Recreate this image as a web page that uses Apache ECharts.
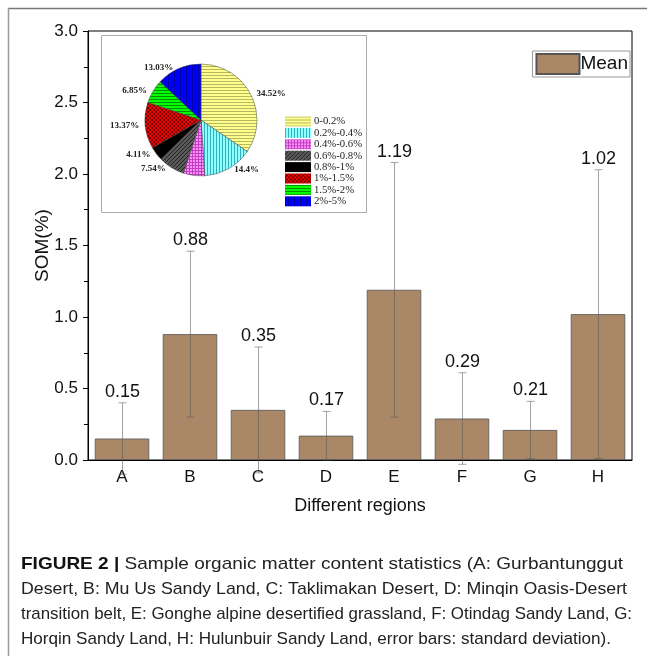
<!DOCTYPE html>
<html>
<head>
<meta charset="utf-8">
<script src="https://cdn.jsdelivr.net/npm/echarts@6/dist/echarts.min.js"></script>
<style>
html,body{margin:0;padding:0;background:#fff;}
#chart{width:647px;height:656px;}
</style>
</head>
<body>
<div id="chart"></div>
<script>
// ---- data ----
const categories = ['A', 'B', 'C', 'D', 'E', 'F', 'G', 'H'];
const meanValues = [0.15, 0.88, 0.35, 0.17, 1.19, 0.29, 0.21, 1.02];
const sdValues = [0.25, 0.58, 0.44, 0.17, 0.89, 0.32, 0.20, 1.01];
const pieClasses = ['0-0.2%', '0.2%-0.4%', '0.4%-0.6%', '0.6%-0.8%', '0.8%-1%', '1%-1.5%', '1.5%-2%', '2%-5%'];
const pieShares = [34.52, 14.4, 6.18, 7.54, 4.11, 13.37, 6.85, 13.03];
const captionLines = [
  'Sample organic matter content statistics (A: Gurbantunggut',
  'Desert, B: Mu Us Sandy Land, C: Taklimakan Desert, D: Minqin Oasis-Desert',
  'transition belt, E: Gonghe alpine desertified grassland, F: Otindag Sandy Land, G:',
  'Horqin Sandy Land, H: Hulunbuir Sandy Land, error bars: standard deviation).'
];

// ---- patterns ----
function pattern(bg, fg, type) {
  const s = type === 'diag' || type === 'cross' ? 4 : 3;
  const c = document.createElement('canvas');
  c.width = s; c.height = s;
  const ctx = c.getContext('2d');
  ctx.fillStyle = bg; ctx.fillRect(0, 0, s, s);
  ctx.fillStyle = fg;
  if (type === 'h') ctx.fillRect(0, 0, s, 1);
  if (type === 'v') ctx.fillRect(0, 0, 1, s);
  if (type === 'grid') { ctx.fillRect(0, 0, s, 1); ctx.fillRect(0, 0, 1, s); }
  if (type === 'diag') { for (let i = 0; i < s; i++) ctx.fillRect(i, s - 1 - i, 1, 1); }
  if (type === 'cross') { for (let i = 0; i < s; i++) { ctx.fillRect(i, i, 1, 1); ctx.fillRect(i, s - 1 - i, 1, 1); } }
  return { image: c, repeat: 'repeat' };
}
const pieFills = [
  pattern('#ffff90', '#b8b860', 'h'),
  pattern('#90ffff', '#30b0c0', 'v'),
  pattern('#ff90ff', '#c040c0', 'grid'),
  pattern('#5a5a5a', '#222222', 'diag'),
  '#000000',
  pattern('#ff0000', '#700000', 'cross'),
  pattern('#00ff00', '#009000', 'h'),
  pattern('#0000ff', '#0000a0', 'v')
];

const chart = echarts.init(document.getElementById('chart'), null, { renderer: 'canvas' });

// caption fitting
const mctx = document.createElement('canvas').getContext('2d');
const capFont = '17px "Liberation Sans", Arial, sans-serif';
const capBold = 'bold 17px "Liberation Sans", Arial, sans-serif';
const lineRight = [623, 627, 632, 611];
const capLeft = 21;
const capY = [564, 589, 614, 639];
const captionEls = captionLines.map((t, i) => {
  let prefix = i === 0 ? 'FIGURE 2 | ' : '';
  mctx.font = capFont;
  let w = mctx.measureText(t).width;
  if (prefix) { mctx.font = capBold; w += mctx.measureText(prefix).width; }
  const sx = (lineRight[i] - capLeft) / w;
  return {
    type: 'text', x: capLeft, y: capY[i], scaleX: sx, scaleY: 1, z: 100,
    style: {
      text: prefix ? '{b|' + prefix + '}' + t : t,
      font: capFont, fill: '#222', verticalAlign: 'middle',
      rich: { b: { font: capBold, fill: '#111' } }
    }
  };
});

const option = {
  animation: false,
  backgroundColor: '#fff',
  textStyle: { fontFamily: '"Liberation Sans", Arial, sans-serif' },
  grid: { left: 88, right: 15, top: 31, bottom: 196, show: true, borderColor: '#000', borderWidth: 1, backgroundColor: 'transparent' },
  legend: [
    {
      data: ['Mean'], right: 17, top: 51, orient: 'horizontal',
      itemWidth: 43, itemHeight: 20, itemGap: 0,
      padding: [2, 2, 2, 3], borderColor: '#999', borderWidth: 1,
      icon: 'rect',
      textStyle: { fontSize: 19, color: '#111', padding: [0, 0, 0, -4] }
    },
    {
      data: pieClasses, left: 285, top: 116, orient: 'vertical', padding: 0,
      itemWidth: 26, itemHeight: 10, itemGap: 0.4, icon: 'rect',
      itemStyle: { borderWidth: 0 },
      textStyle: { fontFamily: '"Liberation Serif", "Times New Roman", serif', fontSize: 10.7, color: '#222', lineHeight: 10, padding: [0, 0, 0, -2] }
    }
  ],
  xAxis: [
    {
      type: 'category', data: categories, gridIndex: 0,
      axisLine: { lineStyle: { color: '#000', width: 1 } },
      axisTick: { inside: true, alignWithLabel: true, length: 7, lineStyle: { color: '#000' } },
      axisLabel: { fontSize: 17, color: '#111', margin: 9 },
      name: 'Different regions', nameLocation: 'middle', nameGap: 37,
      nameTextStyle: { fontSize: 18, color: '#111' }
    },
    {
      type: 'category', data: categories, gridIndex: 0, position: 'bottom',
      axisLine: { show: false },
      axisTick: { inside: true, alignWithLabel: false, length: 4, lineStyle: { color: '#000' } },
      axisLabel: { show: false }
    }
  ],
  yAxis: {
    type: 'value', min: 0, max: 3, interval: 0.5,
    axisLine: { show: true, lineStyle: { color: '#000', width: 1 } },
    axisTick: { show: true, inside: false, length: 5, lineStyle: { color: '#000' } },
    minorTick: { show: true, splitNumber: 2, length: 4, lineStyle: { color: '#000' } },
    splitLine: { show: false },
    axisLabel: { fontSize: 17, color: '#111', margin: 10, formatter: v => v.toFixed(1) },
    name: 'SOM(%)', nameLocation: 'middle', nameGap: 36, nameRotate: 90, nameMoveOverlap: false,
    nameTextStyle: { fontSize: 19, color: '#111' }
  },
  graphic: {
    elements: [
      { type: 'line', z: 100, shape: { x1: 8, y1: 8.5, x2: 647, y2: 8.5 }, style: { stroke: '#777', lineWidth: 1.5 } },
      { type: 'line', z: 100, shape: { x1: 8.5, y1: 8, x2: 8.5, y2: 656 }, style: { stroke: '#999', lineWidth: 1.5 } },
      { type: 'rect', z: 0, shape: { x: 101.5, y: 35.5, width: 265, height: 177 }, style: { fill: '#fff', stroke: '#aaa', lineWidth: 1 } }
    ].concat(captionEls)
  },
  series: [
    {
      name: 'Mean', type: 'bar', data: meanValues, barWidth: '80%',
      itemStyle: { color: '#aa8767', borderColor: '#555', borderWidth: 0.8 },
      z: 2
    },
    {
      type: 'custom', name: 'sd', clip: false, z: 4,
      data: meanValues.map((m, i) => [i, m - sdValues[i], m + sdValues[i], m]),
      renderItem: function (params, api) {
        const i = api.value(0);
        const pHi = api.coord([i, api.value(2)]);
        const pLo = api.coord([i, api.value(1)]);
        const x = Math.round(pHi[0]) + 0.5;
        const st = { stroke: 'rgba(90,90,90,0.55)', lineWidth: 1 };
        return {
          type: 'group', children: [
            { type: 'line', shape: { x1: x, y1: pHi[1], x2: x, y2: pLo[1] }, style: st },
            { type: 'line', shape: { x1: x - 4, y1: pHi[1], x2: x + 4, y2: pHi[1] }, style: st },
            { type: 'line', shape: { x1: x - 4, y1: pLo[1], x2: x + 4, y2: pLo[1] }, style: st },
            { type: 'text', style: { text: api.value(3).toFixed(2), x: x, y: pHi[1] - 2, align: 'center', verticalAlign: 'bottom', font: '18px "Liberation Sans", Arial, sans-serif', fill: '#111' } }
          ]
        };
      }
    },
    {
      type: 'pie', z: 5, center: [201, 120], radius: 56,
      startAngle: 90, clockwise: true,
      avoidLabelOverlap: false,
      data: pieClasses.map((n, i) => ({ name: n, value: pieShares[i], itemStyle: { color: pieFills[i] } })),
      itemStyle: { borderColor: '#444', borderWidth: 0.5 },
      label: {
        show: true, position: 'outside', formatter: p => p.value + '%',
        fontFamily: '"Liberation Serif", "Times New Roman", serif', fontWeight: 'bold', fontSize: 9, color: '#222'
      },
      labelLine: { show: false, length: 1, length2: 0 },
      emphasis: { disabled: true }
    }
  ]
};
chart.setOption(option);
</script>
</body>
</html>
